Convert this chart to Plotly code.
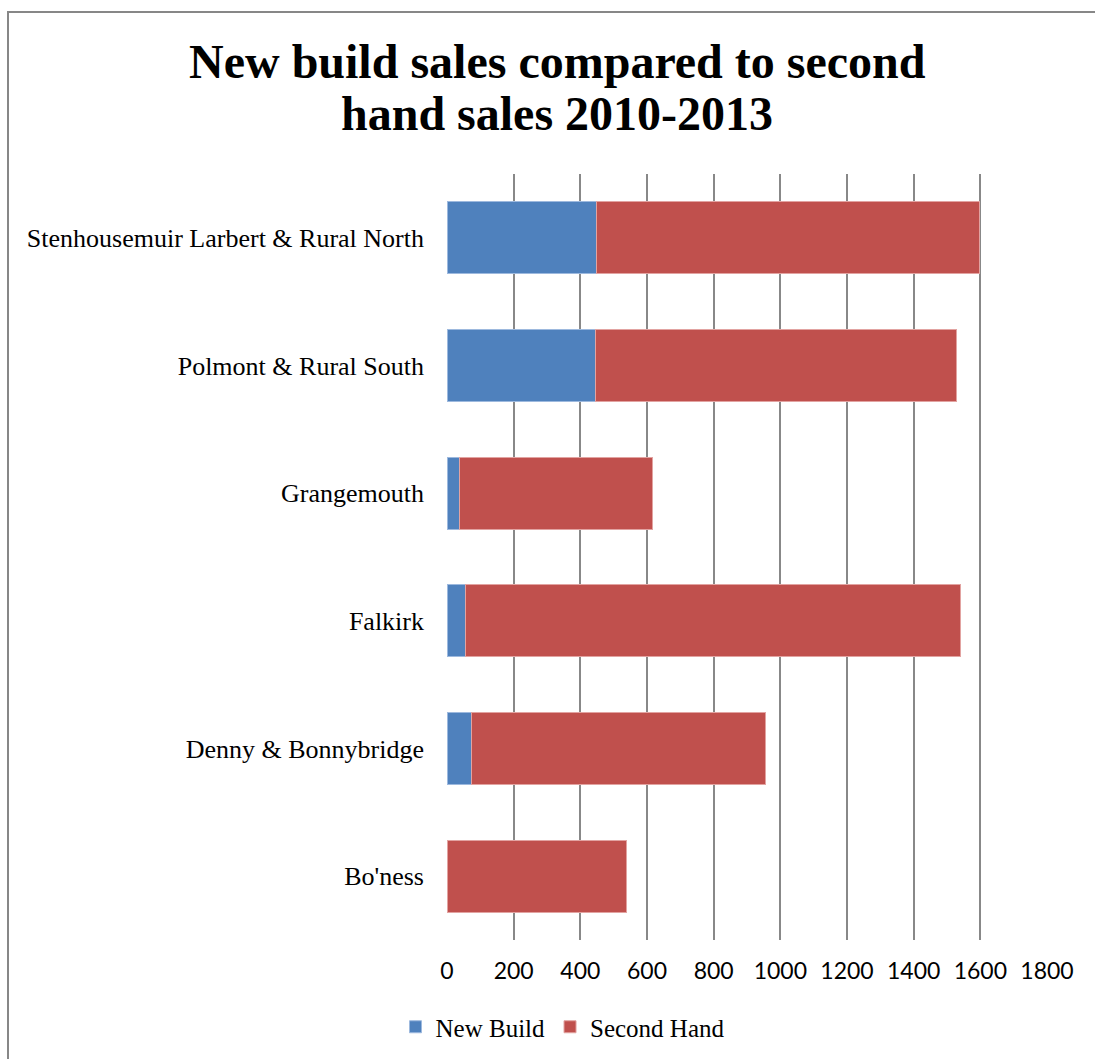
import plotly.graph_objects as go

categories = ["Stenhousemuir Larbert & Rural North", "Polmont & Rural South", "Grangemouth",
              "Falkirk", "Denny & Bonnybridge", "Bo'ness"]
new_build = [448, 445, 37, 56, 72, 0]
second_hand = [1150, 1082, 579, 1485, 883, 539]
x_ticks = [0, 200, 400, 600, 800, 1000, 1200, 1400, 1600, 1800]
title_lines = ["New build sales compared to second", "hand sales 2010-2013"]

fig = go.Figure()
fig.add_trace(go.Bar(y=categories, x=new_build, name="New Build", orientation="h",
                     marker=dict(color="#4F81BD", line=dict(color="#9DB9DE", width=1))))
fig.add_trace(go.Bar(y=categories, x=second_hand, name="Second Hand", orientation="h",
                     marker=dict(color="#C0504D", line=dict(color="#E2A3A1", width=1))))

W, H = 1095, 1059
L, R, T, B = 447, 48, 174, 119
pw, ph = W - L - R, H - T - B

fig.update_layout(
    width=W, height=H, barmode="stack", bargap=0.435,
    margin=dict(l=L, r=R, t=T, b=B),
    paper_bgcolor="white", plot_bgcolor="white",
    xaxis=dict(range=[0, 1800], tickvals=x_ticks, showgrid=True, gridcolor="#888888", gridwidth=2,
               zeroline=False, showline=False, ticks="", ticklabelstandoff=15,
               tickfont=dict(family="Lato, Open Sans, sans-serif", size=23, color="black")),
    yaxis=dict(autorange="reversed", showgrid=False, zeroline=False, showline=False, ticks="",
               ticklabelstandoff=22,
               tickfont=dict(family="Liberation Serif, serif", size=26, color="black")),
    legend=dict(orientation="h", xref="container", yref="container", x=563 / W, xanchor="center",
                y=1 - 1027 / H, yanchor="middle", traceorder="normal",
                font=dict(family="Liberation Serif, serif", size=25, color="black")),
    showlegend=True,
)

for i, (line, yc) in enumerate(zip(title_lines, [61, 113])):
    fig.add_annotation(text="<b>" + line + "</b>", xref="paper", yref="paper",
                       x=(557 - L) / pw, y=(H - B - yc) / ph, xanchor="center", yanchor="middle",
                       showarrow=False,
                       font=dict(family="Liberation Serif, serif", size=48, color="black"))

# chart border
fig.add_shape(type="rect", xref="paper", yref="paper",
              x0=(8 - L) / pw, x1=(W + 5 - L) / pw,
              y0=(H - B - (H + 5)) / ph, y1=(H - B - 12) / ph,
              line=dict(color="#878787", width=2), fillcolor="rgba(0,0,0,0)", layer="below")

fig.write_html("out.html")
